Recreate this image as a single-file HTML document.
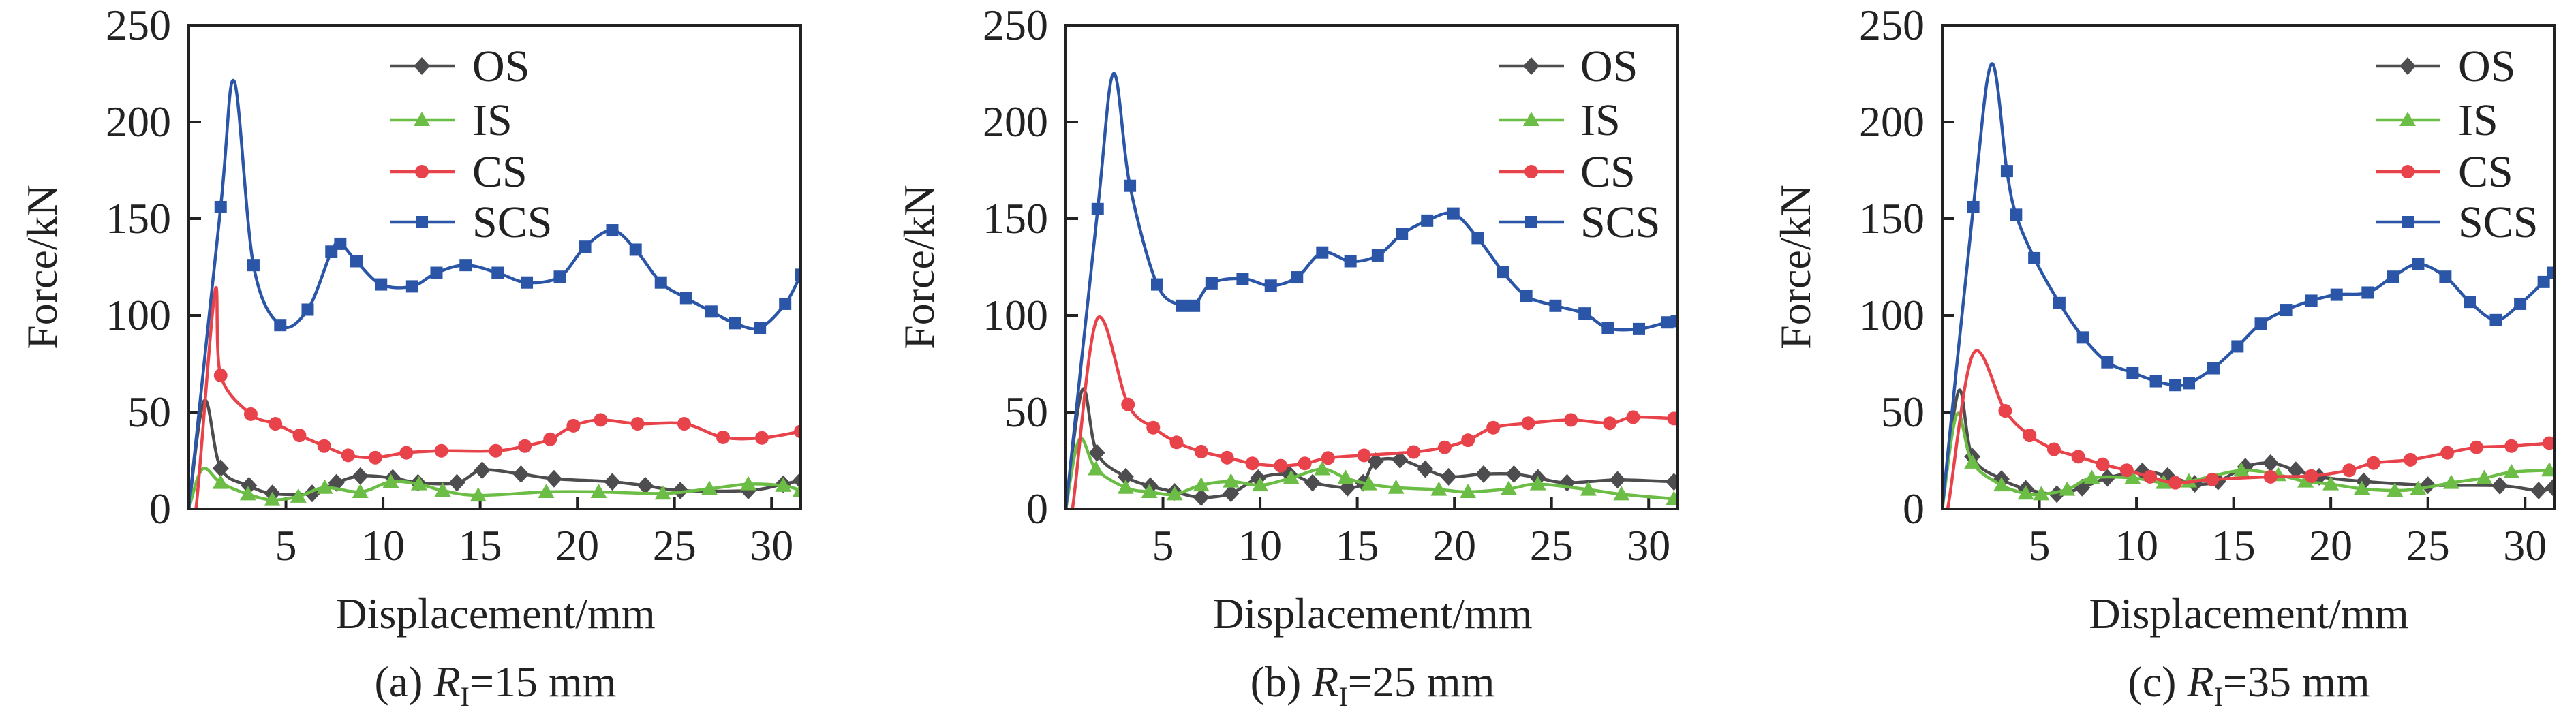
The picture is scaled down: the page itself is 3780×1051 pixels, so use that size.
<!DOCTYPE html>
<html><head><meta charset="utf-8">
<style>
html,body{margin:0;padding:0;background:#fff;}
svg{display:block;}
svg text{font-family:"Liberation Serif","DejaVu Serif",serif !important;fill:#222;}
</style></head>
<body>
<svg id="fig" width="3780" height="1051" viewBox="0 0 3780 1051" xmlns="http://www.w3.org/2000/svg" font-family="'Liberation Serif', serif" style="font-family:'Liberation Serif','DejaVu Serif',serif;"></svg>
<script>
const xTicks=[5,10,15,20,25,30];
const yTicks=[0,50,100,150,200,250];
const seriesNames=["OS","IS","CS","SCS"];
const captions=["15","25","35"];
// chart a
const aOSx=[0,0.8,1.64,3.1,4.3,6.35,7.6,8.83,10.5,11.8,13.8,15.1,17.1,18.8,21.8,23.5,25.3,28.8,30.6,31.5];
const aOSy=[0,56,21,12,8,8,13.5,17,16,13.5,13.5,20,18,15.6,14,12,9.5,9.5,12.8,14.7];
const aISx=[0,0.7,1.64,3.05,4.3,5.64,7.0,8.83,10.4,11.85,13.07,14.9,18.4,21.1,24.4,26.8,28.8,30.6,31.5];
const aISy=[0,20.6,13.5,7.6,4.7,6.4,11,8.8,14,12.8,9.5,7,8.8,8.8,8,10.4,12.8,12,9.5];
const aCSx=[0,0.37,1.35,1.64,3.19,4.46,5.7,6.97,8.2,9.6,11.2,13.0,15.8,17.3,18.6,19.8,21.2,23.1,25.5,27.5,29.5,31.5];
const aCSy=[0,0,112.5,69,49,44,38,32.5,27.7,26.5,29,30,30,32.5,36,43,46,44,44,37,36.7,40];
const aSCSx=[0,1.64,2.34,3.33,4.71,6.12,7.34,7.8,8.63,9.9,11.5,12.75,14.25,15.9,17.4,19.1,20.4,21.8,23.0,24.3,25.6,26.9,28.1,29.4,30.7,31.5];
const aSCSy=[0,156,221,126,95,103,133,137,128,116,115,122,126,122,117,120,135.5,144,134,117,109,102,96,93.6,106,121];
// chart b
const bOSx=[0,0.85,1.6,3.08,4.35,5.6,6.97,8.5,9.9,11.5,12.7,14.5,15.3,15.95,17.2,18.5,19.7,21.5,23.06,24.3,25.8,28.4,31.3];
const bOSy=[0,61.6,29,16.6,11.8,8.8,6,8,15.9,18,13.5,11,13.5,24.6,25.4,20.6,16.6,18,18,16,13.5,15,14];
const bISx=[0,0.7,1.55,3.08,4.3,5.6,6.97,8.5,10.0,11.6,13.2,14.4,15.6,17.0,19.2,20.7,22.8,24.3,26.9,28.6,31.3];
const bISy=[0,36,20.6,11,8.8,7.6,12.3,14.2,12.3,16,20.6,16,12.8,11,10,8.8,10.4,12.8,10,7.6,5.2];
const bCSx=[0,0.34,1.6,3.2,4.5,5.7,6.97,8.3,9.6,11.06,12.3,13.5,15.35,17.9,19.5,20.7,22.0,23.8,26.0,28.0,29.2,31.3];
const bCSy=[0,0,98,54,42,34.4,29.6,26.5,23.5,22.3,23.5,26.3,27.7,29.4,31.8,35.5,42,44.3,46,44.3,47.4,46.7];
const bSCSx=[0,1.64,2.46,3.3,4.7,5.98,6.6,7.5,9.1,10.55,11.9,13.2,14.65,16.06,17.3,18.6,19.95,21.2,22.5,23.7,25.2,26.7,27.9,29.5,30.96,31.45];
const bSCSy=[0,155,225,167,116,105,105,116.6,119,115.4,119.7,132.5,128,131,142,149,152.6,140,122.5,110,105,101,93.4,93,96.4,97];
// chart c
const cOSx=[0,0.85,1.55,3.05,4.3,5.9,7.2,8.5,10.3,11.6,13.0,14.2,15.6,16.9,18.2,19.4,21.7,25.0,28.7,30.7,31.45];
const cOSy=[0,61,27,15.4,10.4,7.6,11,16,19.4,17,13,14.2,21.8,23.7,20,16.6,14.2,12.3,12,9.5,11];
const cISx=[0,0.76,1.55,3.05,4.3,5.1,6.43,7.7,9.8,11.4,12.7,15.4,17.3,18.7,20.0,21.6,23.3,24.5,26.2,27.9,29.3,31.25];
const cISy=[0,49,24,12.3,8,7.6,10,16,16,13.5,14.2,19.9,17.5,14.2,12.8,10.4,9.5,10.4,13.5,16,19,20];
const cCSx=[0,0.28,1.6,3.24,4.5,5.75,7.0,8.26,9.5,10.7,12.0,13.9,16.9,19.0,20.95,22.2,24.1,26.0,27.5,29.3,31.25];
const cCSy=[0,0,80.3,50.7,38,30.8,27,23,20,16.6,13.5,15.2,16.6,17,20,23.7,25.4,29,31.8,32.5,34];
const cSCSx=[0,1.6,2.54,3.33,3.8,4.74,6.03,7.25,8.5,9.8,11.0,12.0,12.7,13.96,15.2,16.4,17.7,19.0,20.3,21.9,23.2,24.5,25.9,27.15,28.5,29.75,30.96,31.45];
const cSCSy=[0,156,230,174.6,152,129.6,106.4,88.6,75.8,70.4,66,64,65,72.7,84,95.7,102.8,107.6,110.7,111.8,120,126.5,120,107,97.6,106,117.3,122];

const charts=[
 {id:"a",left:277,legLine:572,legText:693,data:[[aOSx,aOSy],[aISx,aISy],[aCSx,aCSy],[aSCSx,aSCSy]]},
 {id:"b",left:1564,legLine:2200,legText:2319,data:[[bOSx,bOSy],[bISx,bISy],[bCSx,bCSy],[bSCSx,bSCSy]]},
 {id:"c",left:2850,legLine:3486,legText:3607,data:[[cOSx,cOSy],[cISx,cISy],[cCSx,cCSy],[cSCSx,cSCSy]]}
];
const colors=["#4d4d4f","#6cbd45","#e8434a","#2b56a8"];
const NS="http://www.w3.org/2000/svg";
const FONT="'Liberation Serif', 'DejaVu Serif', serif";
const svg=document.getElementById('fig');
const TOP=37,BOT=747,W=898,XMAX=31.5,YMAX=250;
function mk(tag,attrs,parent){const e=document.createElementNS(NS,tag);for(const k in attrs)e.setAttribute(k,attrs[k]);if(tag==='text')e.setAttribute('font-family',FONT);(parent||svg).appendChild(e);return e;}
function smooth(pts){
 let d="M"+pts[0][0]+","+pts[0][1];
 for(let i=0;i<pts.length-1;i++){
  const p0=pts[Math.max(0,i-1)],p1=pts[i],p2=pts[i+1],p3=pts[Math.min(pts.length-1,i+2)];
  const t=1/6;
  const c1x=p1[0]+(p2[0]-p0[0])*t,c1y=p1[1]+(p2[1]-p0[1])*t;
  const c2x=p2[0]-(p3[0]-p1[0])*t,c2y=p2[1]-(p3[1]-p1[1])*t;
  d+=" C"+c1x.toFixed(1)+","+c1y.toFixed(1)+" "+c2x.toFixed(1)+","+c2y.toFixed(1)+" "+p2[0].toFixed(1)+","+p2[1].toFixed(1);
 }
 return d;
}
function marker(k,x,y,g){
 let m;
 if(k===0){m=mk('polygon',{points:`${x},${y-13} ${x+12},${y} ${x},${y+13} ${x-12},${y}`,fill:colors[0]},g);}
 else if(k===1){m=mk('polygon',{points:`${x},${y-12} ${x+12},${y+9} ${x-12},${y+9}`,fill:colors[1]},g);}
 else if(k===2){m=mk('circle',{cx:x,cy:y,r:10,fill:colors[2]},g);}
 else {m=mk('rect',{x:x-9,y:y-9,width:18,height:18,fill:colors[3]},g);}
 return m;
}
charts.forEach((c,ci)=>{
 const L=c.left,R=L+W;
 const sx=v=>L+v/XMAX*W, sy=v=>BOT-v/YMAX*(BOT-TOP);
 const g=mk('g',{});
 
 
 const clip=mk('clipPath',{id:'clip'+c.id},g);
 mk('rect',{x:L,y:TOP,width:W,height:BOT-TOP},clip);
 xTicks.forEach(t=>{
  const ln=mk('line',{x1:sx(t),x2:sx(t),y1:BOT,y2:BOT-18,stroke:'#222','stroke-width':4},g);
  
  
  const tx=mk('text',{x:sx(t),y:822,'text-anchor':'middle','font-size':64},g);
  tx.textContent=t;
  
  
 });
 yTicks.forEach(t=>{
  if(t>0&&t<250){const ln=mk('line',{x1:L,x2:L+18,y1:sy(t),y2:sy(t),stroke:'#222','stroke-width':4},g);
  
  }
  const tx=mk('text',{x:L-26,y:sy(t)+21,'text-anchor':'end','font-size':64},g);
  tx.textContent=t;
  
  
 });
 c.data.forEach((s,k)=>{
  const sg=mk('g',{'clip-path':`url(#clip${c.id})`},g);
  
  
  const pts=s[0].map((x,i)=>[sx(x),sy(s[1][i])]);
  const p=mk('path',{d:smooth(pts),fill:'none',stroke:colors[k],'stroke-width':4.5,'stroke-linejoin':'round'},sg);
  
  
  let maxI=0;s[1].forEach((v,i)=>{if(v>s[1][maxI])maxI=i;});
  pts.forEach((q,i)=>{
   if(i===0||i===maxI||s[1][i]===0)return;
   const m=marker(k,q[0],q[1],sg);
   
   
  });
 });
 const fr=mk('rect',{x:L,y:TOP,width:W,height:BOT-TOP,fill:'none',stroke:'#222','stroke-width':4},g);
 
 
 const lg=mk('g',{},g);
 
 
 const rows=[97,176,252,326];
 seriesNames.forEach((n,k)=>{
  const e=mk('g',{},lg);
  
  
  mk('line',{x1:c.legLine,x2:c.legLine+95,y1:rows[k],y2:rows[k],stroke:colors[k],'stroke-width':4.5},e);
  marker(k,c.legLine+47,rows[k],e);
  const t=mk('text',{x:c.legText,y:rows[k]+22,'font-size':66},e);
  t.textContent=n;
 });
 const xl=mk('text',{x:L+450,y:922,'text-anchor':'middle','font-size':64},g);
 xl.textContent='Displacement/mm';
 
 
 const yl=mk('text',{x:0,y:0,'text-anchor':'middle','font-size':64,transform:`translate(${L-194},${392}) rotate(-90)`},g);
 yl.textContent='Force/kN';
 
 
 const cap=mk('text',{x:L+450,y:1022,'text-anchor':'middle','font-size':64},g);
 
 
 const a=document.createElementNS(NS,'tspan');a.textContent='('+c.id+') ';cap.appendChild(a);
 const r=document.createElementNS(NS,'tspan');r.setAttribute('font-style','italic');r.textContent='R';cap.appendChild(r);
 const sub=document.createElementNS(NS,'tspan');sub.setAttribute('font-size','40');sub.setAttribute('dy','14');sub.textContent='I';cap.appendChild(sub);
 const rest=document.createElementNS(NS,'tspan');rest.setAttribute('dy','-14');rest.textContent='='+captions[ci]+' mm';cap.appendChild(rest);
});
</script>
</body></html>
